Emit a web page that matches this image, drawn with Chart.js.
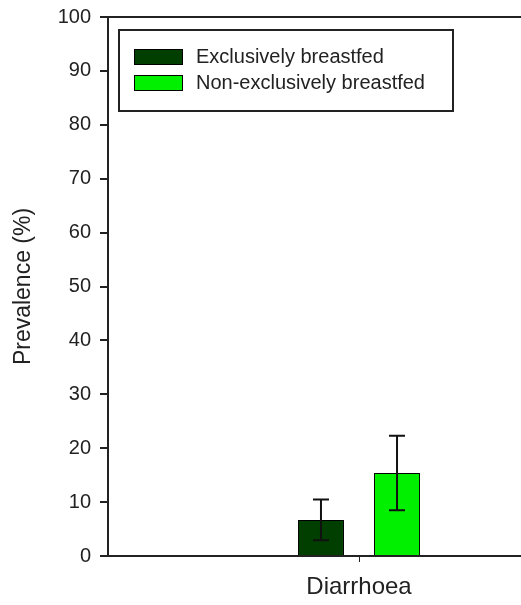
<!DOCTYPE html>
<html lang="en">
<head>
  <meta charset="UTF-8" />
  <title>Prevalence of diarrhoea</title>
  <script src="https://cdn.jsdelivr.net/npm/chart.js"></script>
  <style>
    html, body { margin: 0; padding: 0; background: #fff; overflow: hidden; }
    #wrap { width: 640px; height: 609px; margin-top: -4px; }
  </style>
</head>
<body>
  <div id="wrap"><canvas id="chart" width="640" height="609"></canvas></div>

  <script>
    // values
    const categories = ["Diarrhoea"];
    const seriesNames = ["Exclusively breastfed", "Non-exclusively breastfed"];
    const exclusive = [6.7];
    const exclusiveErr = [3.8];
    const nonExclusive = [15.4];
    const nonExclusiveErr = [6.9];
    const yTicks = [0, 10, 20, 30, 40, 50, 60, 70, 80, 90, 100];

    const ink = "#222";
    const fontFamily = "'Liberation Sans', Arial, sans-serif";

    // error bars, drawn from each dataset's err array
    const errorBars = {
      id: "errorBars",
      afterDatasetsDraw(chart) {
        const ctx = chart.ctx;
        const y = chart.scales.y;
        chart.data.datasets.forEach((ds, i) => {
          const meta = chart.getDatasetMeta(i);
          meta.data.forEach((bar, j) => {
            const v = ds.data[j], e = ds.err[j];
            const top = y.getPixelForValue(v + e);
            const bot = y.getPixelForValue(v - e);
            ctx.save();
            ctx.strokeStyle = "#111";
            ctx.lineWidth = 2;
            ctx.beginPath();
            ctx.moveTo(bar.x, top); ctx.lineTo(bar.x, bot);
            ctx.moveTo(bar.x - 8, top); ctx.lineTo(bar.x + 8, top);
            ctx.moveTo(bar.x - 8, bot); ctx.lineTo(bar.x + 8, bot);
            ctx.stroke();
            ctx.restore();
          });
        });
      }
    };

    // top frame line + boxed legend inside the plot
    const frameAndLegend = {
      id: "frameAndLegend",
      afterDraw(chart) {
        const ctx = chart.ctx;
        const a = chart.chartArea;
        ctx.save();
        ctx.strokeStyle = ink;
        ctx.lineWidth = 2;
        ctx.beginPath();
        ctx.moveTo(a.left, a.top);
        ctx.lineTo(a.right, a.top);
        ctx.stroke();

        const bx = a.left + 11, by = a.top + 13;
        ctx.lineWidth = 2;
        ctx.strokeRect(bx, by, 334, 81);
        ctx.font = "20px " + fontFamily;
        ctx.textBaseline = "middle";
        chart.data.datasets.forEach((ds, i) => {
          const sy = by + 19 + i * 26;
          ctx.fillStyle = ds.backgroundColor;
          ctx.fillRect(bx + 15, sy, 49, 16);
          ctx.lineWidth = 1;
          ctx.strokeStyle = "#000";
          ctx.strokeRect(bx + 15.5, sy + 0.5, 48, 15);
          ctx.fillStyle = ink;
          ctx.fillText(ds.label, bx + 77, sy + 8);
        });
        ctx.restore();
      }
    };

    new Chart(document.getElementById("chart"), {
      type: "bar",
      data: {
        labels: categories,
        datasets: [
          { label: seriesNames[0], data: exclusive, err: exclusiveErr,
            backgroundColor: "#003f00", borderColor: "#000", borderWidth: 1 },
          { label: seriesNames[1], data: nonExclusive, err: nonExclusiveErr,
            backgroundColor: "#00f000", borderColor: "#000", borderWidth: 1 }
        ]
      },
      options: {
        responsive: false,
        animation: false,
        layout: { padding: { top: 12, right: 30, left: 0, bottom: 0 } },
        datasets: { bar: { categoryPercentage: 0.303, barPercentage: 0.605 } },
        plugins: { legend: { display: false }, tooltip: { enabled: false } },
        scales: {
          x: {
            border: { color: ink, width: 2 },
            grid: { display: true, offset: false, drawOnChartArea: false, drawTicks: true,
                    tickLength: 6, color: ink, lineWidth: 1 },
            ticks: { color: ink, padding: 11, font: { size: 24, family: fontFamily } },
            afterFit(s) { s.height = 49; }
          },
          y: {
            min: 0, max: 100,
            afterBuildTicks(s) { s.ticks = yTicks.map(v => ({ value: v })); },
            border: { color: ink, width: 2 },
            grid: { drawOnChartArea: false, drawTicks: true, tickLength: 8, color: ink, lineWidth: 2 },
            ticks: { color: ink, padding: 9, font: { size: 20, family: fontFamily } },
            title: { display: true, text: "Prevalence (%)", color: ink, padding: { top: 10, bottom: 0 },
                     font: { size: 23, family: fontFamily } },
            afterFit(s) { s.width = 108; }
          }
        }
      },
      plugins: [errorBars, frameAndLegend]
    });
  </script>
</body>
</html>
